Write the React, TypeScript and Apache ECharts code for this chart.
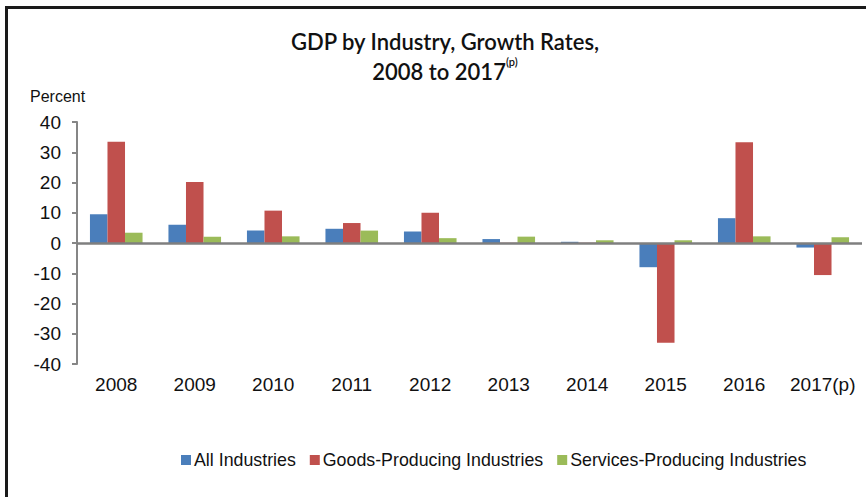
import React, { useEffect, useRef } from "react";
import * as echarts from "echarts";

const categories = ["2008", "2009", "2010", "2011", "2012", "2013", "2014", "2015", "2016", "2017(p)"];
const allIndustries = [9.5, 6.0, 4.1, 4.7, 3.8, 1.3, 0.4, -8.0, 8.2, -1.5];
const goodsProducing = [33.5, 20.2, 10.7, 6.6, 10.0, 0.1, 0.1, -33.0, 33.3, -10.6];
const servicesProducing = [3.4, 2.1, 2.2, 4.1, 1.6, 2.1, 0.9, 0.9, 2.2, 1.9];
const seriesNames = ["All Industries", "Goods-Producing Industries", "Services-Producing Industries"];
const colors = ["#4a7ebb", "#c0504d", "#9bbb59"];
const yTicks = { min: -40, max: 40, interval: 10 };

const SANS = "'Liberation Sans', Arial, sans-serif";

export default function App() {
  const ref = useRef<HTMLDivElement>(null);
  useEffect(() => {
    if (!ref.current) return;
    const chart = echarts.init(ref.current, undefined, { renderer: "svg" });
    const values = [allIndustries, goodsProducing, servicesProducing];
    chart.setOption({
      animation: false,
      backgroundColor: "#ffffff",
      title: {
        text: "GDP by Industry, Growth Rates,\n2008 to 2017{sup|(p)}",
        left: 440,
        textAlign: "center",
        top: 21,
        textStyle: {
          fontFamily: "Lato",
          fontSize: 22,
          fontWeight: 600,
          color: "#111",
          lineHeight: 30,
          rich: {
            sup: {
              fontFamily: "Lato",
              fontSize: 11,
              fontWeight: 600,
              color: "#111",
              verticalAlign: "top",
              padding: [0, 0, 12, 0],
            },
          },
        },
      },
      graphic: [
        {
          type: "rect",
          shape: { x: 6.5, y: 7.5, width: 900, height: 600 },
          style: { fill: "none", stroke: "#1a1a1a", lineWidth: 3 },
          silent: true,
        },
        {
          type: "text",
          left: 30,
          top: 88,
          style: { text: "Percent", font: "16px " + SANS, fill: "#111" },
        },
      ],
      legend: {
        data: seriesNames,
        left: 176,
        top: 446,
        itemWidth: 10,
        itemHeight: 10,
        itemGap: 14,
        icon: "rect",
        textStyle: { fontFamily: SANS, fontSize: 17.8, color: "#111", padding: [0, 0, 0, -2] },
      },
      grid: { left: 77, right: 4, top: 122, bottom: 133, containLabel: false },
      xAxis: {
        type: "category",
        data: categories,
        axisLine: { show: false, onZero: false },
        axisTick: { show: false },
        axisLabel: { fontFamily: SANS, fontSize: 19, color: "#111", margin: 11, interval: 0, hideOverlap: false },
      },
      yAxis: {
        type: "value",
        min: yTicks.min,
        max: yTicks.max,
        interval: yTicks.interval,
        axisLine: { show: true, lineStyle: { color: "#868686", width: 2 } },
        axisTick: { show: true, length: 5, lineStyle: { color: "#868686", width: 2 } },
        splitLine: { show: false },
        axisLabel: { fontFamily: SANS, fontSize: 19, color: "#111", margin: 16 },
      },
      series: seriesNames.map((name, i) => ({
        name,
        type: "bar",
        data: values[i],
        barGap: "0%",
        barCategoryGap: "33%",
        itemStyle: { color: colors[i] },
        markLine:
          i === 0
            ? {
                silent: true,
                symbol: ["none", "none"],
                label: { show: false },
                lineStyle: { color: "#7f7f7f", width: 2.5, type: "solid" },
                data: [{ yAxis: 0 }],
                z: 10,
              }
            : undefined,
      })),
    });
    return () => chart.dispose();
  }, []);
  return <div ref={ref} style={{ position: "fixed", left: 0, top: 0, width: 866, height: 497 }} />;
}
